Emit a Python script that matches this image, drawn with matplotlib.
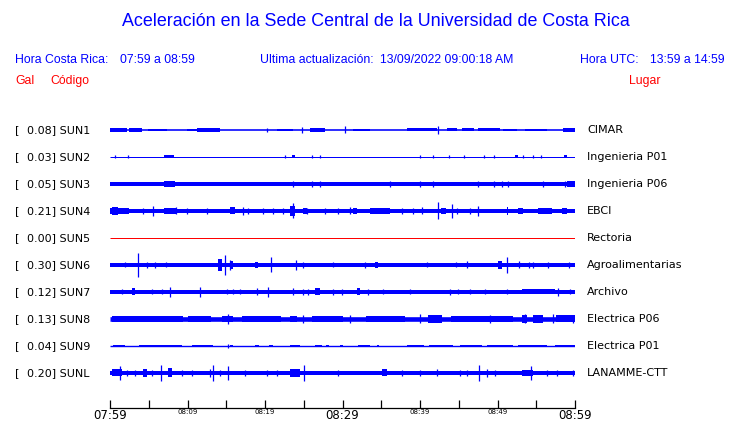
import matplotlib
matplotlib.use("Agg")
import matplotlib.pyplot as plt

# header
title = "Aceleración en la Sede Central de la Universidad de Costa Rica"
hora_cr = "07:59 a 08:59"
actualizacion = "13/09/2022 09:00:18 AM"
hora_utc = "13:59 a 14:59"

# stations
codes = ["SUN1", "SUN2", "SUN3", "SUN4", "SUN5", "SUN6", "SUN7", "SUN8", "SUN9", "SUNL"]
gal = [0.08, 0.03, 0.05, 0.21, 0.00, 0.30, 0.12, 0.13, 0.04, 0.20]
places = ["CIMAR", "Ingenieria P01", "Ingenieria P06", "EBCI", "Rectoria",
          "Agroalimentarias", "Archivo", "Electrica P06", "Electrica P01", "LANAMME-CTT"]

# time axis, minutes after 07:59
tick_min = list(range(0, 61, 5))
tick_text = ["07:59", "", "08:09", "", "08:19", "", "08:29", "", "08:39", "", "08:49", "", "08:59"]

# trace shapes (minutes, half amplitude in px)
base_amp = [0.8, 0.5, 2.0, 2.0, 0.5, 2.0, 2.0, 2.3, 0.7, 2.0]

bursts = {
    "SUN1": [(0, 2.2, 1.6), (2.5, 4.1, 1.6), (4.9, 7.4, 1.3), (9.9, 11.9, 1.3), (11.2, 14.2, 1.6),
             (21.5, 23.6, 1.3), (25.8, 27.7, 1.6), (31.4, 33.5, 1.2), (38.3, 42.2, 1.5),
             (43.5, 44.8, 1.5), (45.4, 47.0, 1.5), (47.5, 50.3, 1.5), (50.7, 52.5, 1.3),
             (53.5, 56.4, 1.3), (58.5, 60, 1.6)],
    "SUN2": [(6.97, 8.26, 1.5), (23.5, 23.9, 1.5), (52.2, 52.6, 1.5), (58.6, 59.0, 1.5)],
    "SUN3": [(6.97, 8.39, 2.8), (59.0, 60, 2.7)],
    "SUN4": [(0.3, 1.0, 4), (0.0, 2.5, 2.6), (7.0, 8.6, 2.8), (15.5, 16.1, 3.5), (23.2, 23.9, 5),
             (24.9, 25.4, 3), (31.3, 31.9, 3.3), (33.6, 36.1, 2.7), (42.7, 43.4, 3), (51.2, 51.4, 4),
             (52.6, 53.3, 3), (55.2, 57.0, 2.8), (58.3, 59.0, 3)],
    "SUN5": [],
    "SUN6": [(13.9, 14.5, 6), (15.5, 15.9, 4), (18.7, 19.1, 3), (34.2, 34.6, 2.7), (50.1, 50.6, 4)],
    "SUN7": [(2.8, 3.2, 3.5), (26.4, 27.1, 3.5), (31.9, 32.3, 3.5), (53.2, 57.4, 2.5)],
    "SUN8": [(0.3, 9.4, 3.3), (10.0, 13.0, 3.0), (14.5, 15.9, 3.3), (17.0, 22.0, 3.0),
             (23.2, 24.1, 3.4), (26.0, 30.0, 3.0), (33.0, 38.0, 3.2), (41.0, 42.8, 3.8),
             (44.0, 52.0, 3.3), (53.2, 53.8, 4.2), (54.6, 55.9, 3.8), (57.5, 60, 3.5)],
    "SUN9": [(0.4, 1.9, 1.4), (3.8, 4.2, 1.4), (4.3, 9.3, 1.4), (10.6, 13.3, 1.4), (15.5, 15.9, 1.4),
             (18.7, 19.2, 1.4), (20.5, 21.0, 1.4), (23.2, 24.5, 1.4), (26.5, 27.3, 1.4),
             (27.9, 28.2, 1.4), (29.7, 30.0, 1.4), (32.0, 33.5, 1.4), (34.4, 34.7, 1.4),
             (38.3, 40.5, 1.4), (41.2, 44.3, 1.4), (45.2, 48.0, 1.4), (48.6, 52.0, 1.4),
             (52.6, 56.4, 1.4), (57.4, 60, 1.4)],
    "SUNL": [(0.3, 1.6, 3.5), (4.3, 4.8, 4), (7.5, 8.0, 4.5), (23.2, 24.5, 4), (35.1, 35.7, 3.5),
             (53.2, 54.6, 3.2)],
}

spikes = {
    "SUN1": [(24.8, 3), (30.3, 3.5), (42.3, 4), (20.3, 1.8)],
    "SUN2": [(0.65, 1.5), (2.3, 1.5), (22.6, 1.5), (26.1, 1.5), (27.1, 1.5), (40.0, 1.5), (41.7, 1.5),
             (43.7, 1.5), (45.7, 1.5), (48.3, 1.5), (49.6, 1.5), (53.3, 1.5), (54.6, 1.5), (55.6, 1.5)],
    "SUN3": [(23.6, 3), (26.1, 2.7), (27.1, 2.7), (36.1, 2.7), (40.0, 2.6), (41.7, 2.6), (47.5, 3),
             (49.6, 2.7), (50.6, 2.6), (51.3, 2.6), (55.9, 2.6), (58.7, 3)],
    "SUN4": [(4.3, 3), (5.5, 5), (8.5, 3.5), (9.9, 3), (12.5, 3), (17.2, 4), (17.8, 3), (19.7, 3),
             (21.0, 2.8), (22.3, 3), (23.6, 7.5), (25.4, 3), (27.7, 3), (29.4, 3), (31.0, 3.5),
             (37.7, 3), (39.1, 3), (40.3, 3.5), (42.3, 8.5), (44.1, 7), (44.8, 3), (46.5, 3), (47.5, 5)],
    "SUN5": [],
    "SUN6": [(1.9, 2.5), (3.6, 12), (4.8, 3), (5.8, 3), (7.2, 2.5), (14.8, 10), (15.5, 5), (20.8, 7.5),
             (24.0, 5), (24.9, 3), (28.8, 2.5), (32.9, 3), (40.9, 2.5), (44.6, 2.5), (46.1, 3.5),
             (51.2, 8), (52.8, 3.5), (54.1, 3), (54.6, 3), (56.5, 3), (59.2, 3)],
    "SUN7": [(1.55, 2.5), (5.4, 2.5), (6.7, 2.5), (7.7, 5), (11.6, 5), (15.1, 2.5), (15.9, 2.5),
             (16.8, 2.5), (18.97, 3.5), (20.4, 5), (23.6, 3.5), (24.9, 2.8), (25.5, 2.8), (28.8, 2.8),
             (29.9, 3), (33.3, 2.8), (35.2, 2.5), (38.7, 2.5), (43.9, 2.8), (44.9, 2.5), (46.5, 2.5),
             (48.4, 2.5), (51.2, 2.5), (57.8, 4), (59.35, 2.5)],
    "SUN8": [(15.2, 5), (24.9, 4), (31.0, 4), (40.0, 4.5), (49.0, 3.8), (53.5, 4.5), (57.2, 4.5),
             (59.7, 4)],
    "SUN9": [(15.2, 2)],
    "SUNL": [(1.3, 7), (2.2, 3), (3.2, 3), (5.4, 3), (6.6, 8), (9.3, 3), (10.6, 3), (12.9, 4), (13.3, 8),
             (14.2, 3), (15.2, 7), (17.4, 3), (20.3, 3), (21.5, 3), (25.0, 8), (29.4, 3), (37.7, 3),
             (40.0, 3), (42.2, 3.5), (45.2, 3), (46.1, 3), (47.6, 8), (48.6, 4), (49.7, 3), (54.3, 7),
             (56.4, 3), (57.7, 3), (59.7, 3)],
}

W, H = 740, 423
BLUE = "#0000ff"
RED = "#ff0000"

fig = plt.figure(figsize=(W / 100, H / 100), dpi=100)
fig.patch.set_facecolor("white")


def ftext(x, y, s, **kw):
    # place text using pixel coordinates from the top-left corner
    fig.text(x / W, 1 - y / H, s, **kw)


sans = "Liberation Sans"
ftext(376, 22, title, ha="center", va="center", color=BLUE, fontsize=12.9, family=sans)
ftext(15, 60, "Hora Costa Rica:", va="center", color=BLUE, fontsize=8.8, family=sans)
ftext(120, 60, hora_cr, va="center", color=BLUE, fontsize=8.8, family=sans)
ftext(260, 60, "Ultima actualización:", va="center", color=BLUE, fontsize=8.8, family=sans)
ftext(380, 60, actualizacion, va="center", color=BLUE, fontsize=8.8, family=sans)
ftext(580, 60, "Hora UTC:", va="center", color=BLUE, fontsize=8.8, family=sans)
ftext(650, 60, hora_utc, va="center", color=BLUE, fontsize=8.8, family=sans)
ftext(15, 81, "Gal", va="center", color=RED, fontsize=8.8, family=sans)
ftext(50, 81, "Código", va="center", color=RED, fontsize=8.8, family=sans)
ftext(629, 81, "Lugar", va="center", color=RED, fontsize=8.8, family=sans)

ax = fig.add_axes([110 / W, 0, 465 / W, 1])
ax.set_xlim(0, 60)
ax.set_ylim(H, 0)
ax.patch.set_alpha(0)
for side in ["left", "right", "top"]:
    ax.spines[side].set_visible(False)
ax.spines["bottom"].set_position(("data", 408))
ax.spines["bottom"].set_linewidth(0.9)
ax.set_yticks([])
ax.set_xticks(tick_min)
ax.set_xticklabels(tick_text)
ax.tick_params(axis="x", direction="in", length=5.5, width=0.9, pad=1)
for i, lab in enumerate(ax.get_xticklabels()):
    lab.set_family("DejaVu Sans")
    lab.set_fontsize(8.5 if i in (0, 6, 12) else 5)

for i, code in enumerate(codes):
    yc = 130 + 27 * i
    color = RED if gal[i] == 0 else BLUE
    ax.plot([0, 60], [yc, yc], color=color, lw=max(2 * base_amp[i], 1) * 0.72,
            solid_capstyle="butt")
    for t0, t1, a in bursts[code]:
        ax.fill_between([t0, t1], yc - a, yc + a, color=color, lw=0)
    for t, a in spikes[code]:
        ax.vlines(t, yc - a, yc + a, color=color, lw=0.9)

    ftext(15, yc, "[", va="center", fontsize=8, family="DejaVu Sans")
    ftext(27, yc, f"{gal[i]:.2f}] {code}", va="center", fontsize=8, family="DejaVu Sans")
    ftext(587, yc, places[i], va="center", fontsize=8, family="DejaVu Sans")

fig.savefig("out.png", dpi=100)
